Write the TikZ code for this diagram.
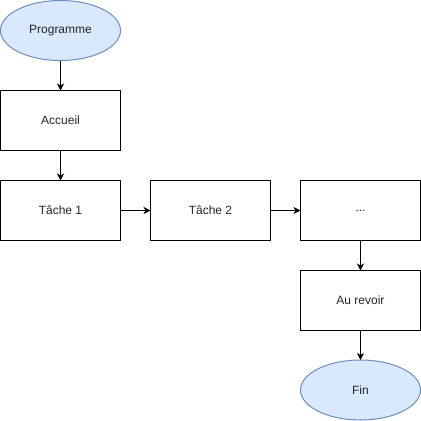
\documentclass[tikz,border=0pt]{standalone}
\usepackage{fontspec}
\setmainfont{Liberation Sans}
\usetikzlibrary{arrows.meta,shapes.geometric}
\definecolor{ellfill}{HTML}{DAE8FC}
\definecolor{elldraw}{HTML}{6C8EBF}
\tikzset{
  boxnode/.style={draw=black, line width=1pt, fill=white, minimum width=120pt, minimum height=60pt, inner sep=0pt, outer sep=0pt, font=\fontsize{12pt}{14pt}\selectfont, text=black!85},
  ellnode/.style={ellipse, draw=elldraw, line width=1pt, fill=ellfill, minimum width=120pt, minimum height=60pt, inner sep=0pt, outer sep=0pt, font=\fontsize{12pt}{14pt}\selectfont, text=black!85},
  conn/.style={draw=black, line width=1pt, -{Stealth[length=7pt,width=7pt,inset=2pt]}}
}
\begin{document}
\begin{tikzpicture}[x=1pt,y=-1pt]
\useasboundingbox (0,0) rectangle (421,421);
\node[ellnode] (prog) at (60.5,30.5) {Programme};
\node[boxnode] (acc) at (60.5,120.5) {Accueil};
\node[boxnode] (t1) at (60.5,210.5) {Tâche 1};
\node[boxnode] (t2) at (210.5,210.5) {Tâche 2};
\node[boxnode] (dots) at (360.5,210.5) {...};
\node[boxnode] (rev) at (360.5,300.5) {Au revoir};
\node[ellnode] (fin) at (360.5,390) {Fin};
\draw[conn] (prog) -- (acc);
\draw[conn] (acc) -- (t1);
\draw[conn] (t1) -- (t2);
\draw[conn] (t2) -- (dots);
\draw[conn] (dots) -- (rev);
\draw[conn] (rev) -- (fin);
\end{tikzpicture}
\end{document}
